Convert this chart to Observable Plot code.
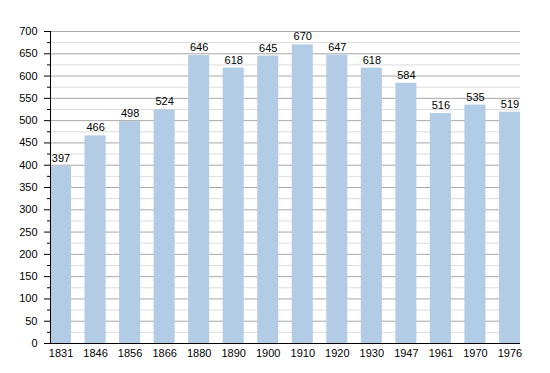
<!DOCTYPE html>
<html><head><meta charset="utf-8">
<script src="https://cdn.jsdelivr.net/npm/d3@7"></script>
<script src="https://cdn.jsdelivr.net/npm/@observablehq/plot@0.6"></script>
<style>body{margin:0;background:#fff;} svg{font-family:"Liberation Sans",Arial,sans-serif;}</style>
</head><body><div id="chart"></div>
<script>
const years = ["1831","1846","1856","1866","1880","1890","1900","1910","1920","1930","1947","1961","1970","1976"];
const population = [397,466,498,524,646,618,645,670,647,618,584,516,535,519];
const majorTicks = d3.range(0, 701, 50);
const minorTicks = d3.range(25, 700, 50);

const data = years.map((y,i)=>({year:y, value:population[i]}));

const chart = Plot.plot({
  width: 550, height: 373,
  marginLeft: 50, marginRight: 30, marginTop: 31, marginBottom: 30,
  style: {fontFamily: '"Liberation Sans", Arial, sans-serif', fontSize: "11px", color: "#000", background: "#fff"},
  x: {domain: years, paddingInner: 0.39, paddingOuter: 0, round: false, label: null, tickSize: 0, tickPadding: 6},
  y: {domain: [0, 700], label: null, ticks: majorTicks, tickSize: 0, tickPadding: 13},
  marks: [
    Plot.ruleY(minorTicks, {stroke: "#dcdcdc", strokeWidth: 1}),
    Plot.ruleY(majorTicks.filter(d=>d>0), {stroke: "#a8a8a8", strokeWidth: 1}),
    Plot.barY(data, {x: "year", y: "value", fill: "#b3cce5"}),
    Plot.text(data, {x: "year", y: "value", text: d=>String(d.value), dy: -8, fontSize: 11, fill: "#000"}),
    Plot.axisY({ticks: majorTicks, tickSize: 6, tickPadding: 7, label: null, stroke: "#000"}),
    Plot.axisY({ticks: minorTicks, tickSize: 3, tickFormat: () => "", label: null, stroke: "#000"}),
    Plot.ruleY([0], {stroke: "#000", strokeWidth: 1.2})
  ]
});
document.getElementById("chart").append(chart);
const svg = d3.select(chart);
svg.append("line").attr("x1",50.5).attr("x2",50.5).attr("y1",31).attr("y2",343).attr("stroke","#000");
</script></body></html>
